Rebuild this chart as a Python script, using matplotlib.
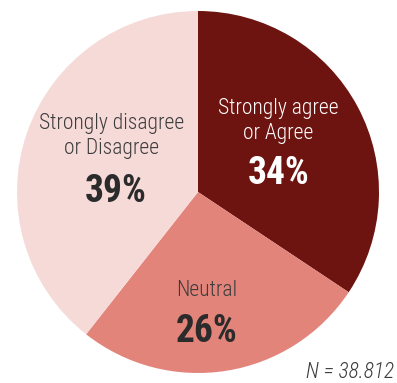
import matplotlib
matplotlib.use("Agg")
import matplotlib.pyplot as plt
from matplotlib import font_manager

labels = ["Strongly agree\nor Agree", "Neutral", "Strongly disagree\nor Disagree"]
pcts = ["34%", "26%", "39%"]
values = [34, 26, 39]
colors = ["#6E1410", "#E3847B", "#F6DAD8"]
note = "N = 38.812"

names = set(f.name for f in font_manager.fontManager.ttflist)
font = "DejaVu Sans"
for cand in ["Roboto Condensed", "Archivo Narrow", "PT Sans Narrow",
             "Liberation Sans Narrow", "Open Sans Condensed"]:
    if cand in names:
        font = cand
        break

fig = plt.figure(figsize=(3.97, 3.83), dpi=100)
ax = fig.add_axes([0, 0, 1, 1])

ax.pie(values, colors=colors, startangle=90, counterclock=False,
       center=(198, 191), radius=181, frame=True,
       wedgeprops=dict(linewidth=0))
ax.set_xlim(0, 397)
ax.set_ylim(0, 383)
ax.set_aspect("equal")
ax.axis("off")

light = dict(family=font, fontsize=15.5, fontweight="light")
big = dict(family=font, fontsize=27, fontweight="bold")

ax.text(278, 262, labels[0], ha="center", va="center", color="white",
        linespacing=1.3, **light)
ax.text(279, 210, pcts[0], ha="center", va="center", color="white", **big)

ax.text(112, 247, labels[2], ha="center", va="center", color="#3C3C3C",
        linespacing=1.3, **light)
ax.text(116, 192, pcts[2], ha="center", va="center", color="#2B2B2B", **big)

ax.text(176, 93, labels[1], ha="left", va="center", color="#3C3C3C", **light)
ax.text(176, 52, pcts[1], ha="left", va="center", color="#2B2B2B", **big)

ax.text(394, 5, note, ha="right", va="baseline", color="#3C3C3C",
        family=font, fontsize=15.5, fontweight="light", style="italic")

fig.savefig("out.png", dpi=100)
